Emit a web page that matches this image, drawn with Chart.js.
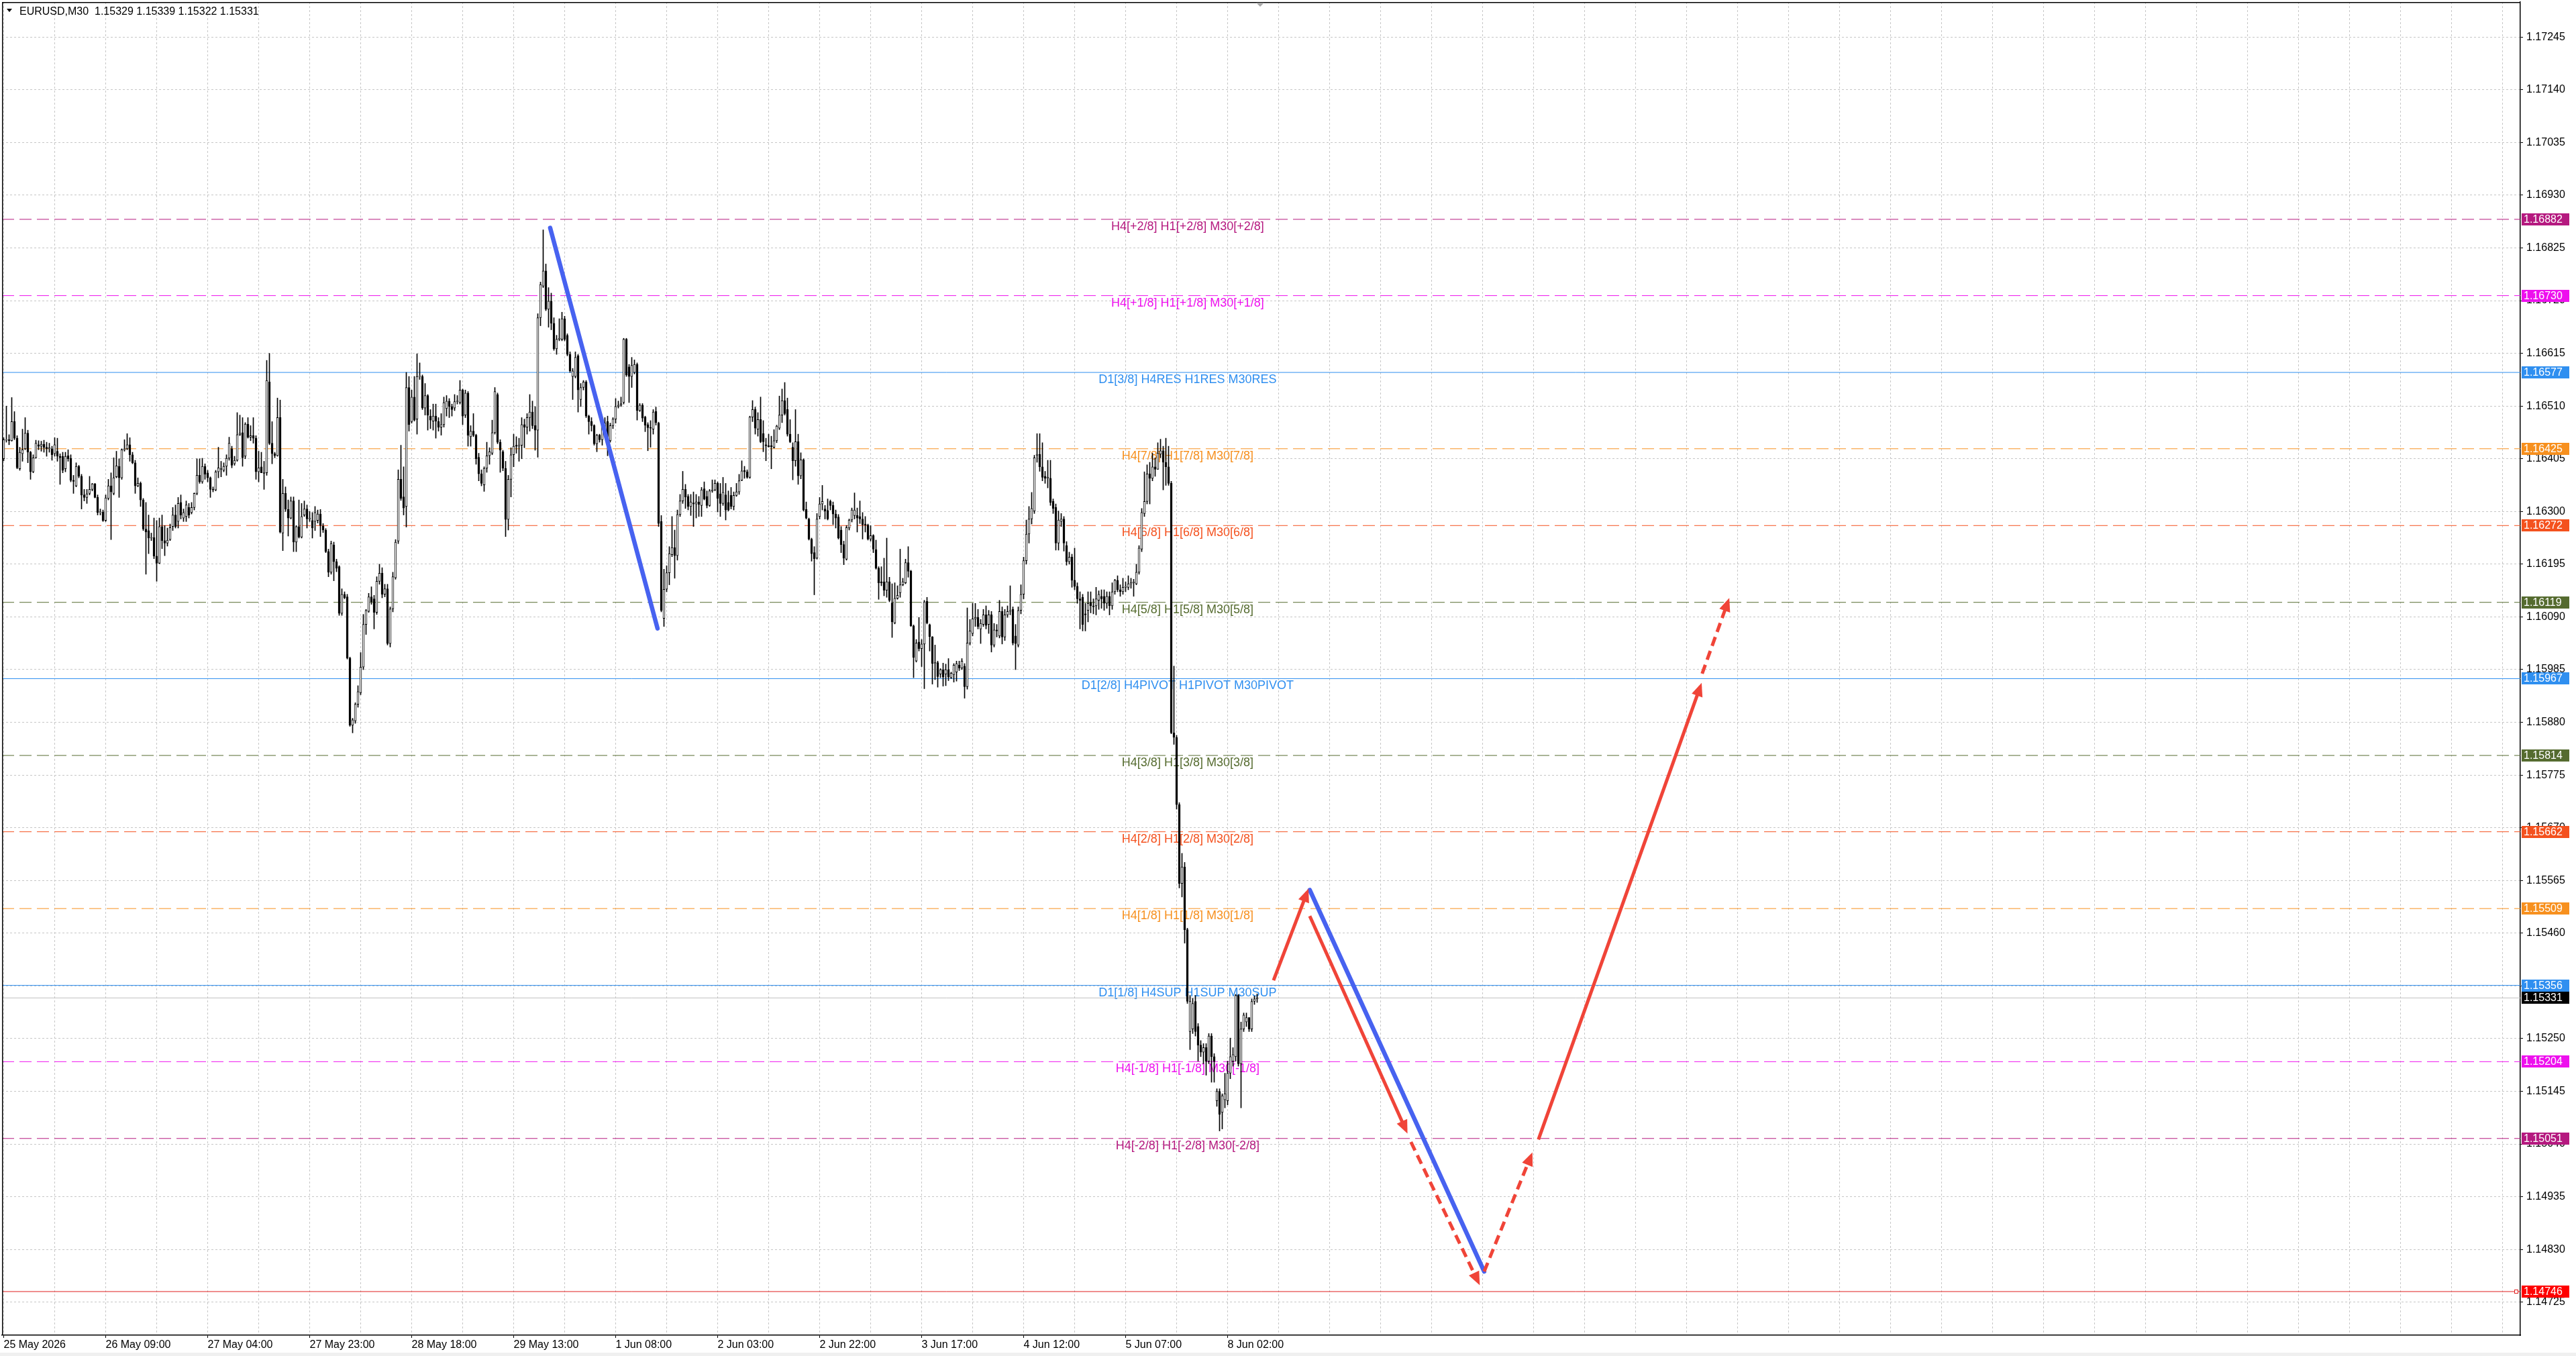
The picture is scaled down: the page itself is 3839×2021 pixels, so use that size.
<!DOCTYPE html>
<html><head><meta charset="utf-8">
<script src="https://cdn.jsdelivr.net/npm/chart.js@4.4.1/dist/chart.umd.min.js"></script>
<style>html,body{margin:0;padding:0;background:#fff;overflow:hidden}canvas{display:block}</style>
</head><body>
<canvas id="c" width="3839" height="2021" style="width:3839px;height:2021px"></canvas>
<script>
// ---------- DATA ----------
const symbolTitle = 'EURUSD,M30';
const lastOHLC = [1.15329, 1.15339, 1.15322, 1.15331];

const opens = [
1.16405,1.16442,1.16443,1.16441,1.16479,1.16446,1.16385,1.16415,1.16425,1.16456,
1.16418,1.16379,1.16407,1.16433,1.16430,1.16434,1.16428,1.16425,1.16425,1.16415,
1.16420,1.16410,1.16410,1.16385,1.16411,1.16406,1.16362,1.16351,1.16390,1.16370,
1.16333,1.16328,1.16336,1.16344,1.16355,1.16328,1.16298,1.16299,1.16282,1.16326,
1.16351,1.16336,1.16369,1.16390,1.16367,1.16423,1.16425,1.16433,1.16413,1.16397,
1.16351,1.16356,1.16323,1.16265,1.16262,1.16247,1.16248,1.16211,1.16197,1.16270,
1.16242,1.16237,1.16244,1.16270,1.16293,1.16280,1.16318,1.16287,1.16290,1.16308,
1.16298,1.16308,1.16336,1.16372,1.16359,1.16390,1.16377,1.16367,1.16344,1.16343,
1.16379,1.16385,1.16382,1.16390,1.16406,1.16425,1.16395,1.16402,1.16453,1.16457,
1.16410,1.16474,1.16448,1.16451,1.16446,1.16379,1.16389,1.16377,1.16377,1.16558,
1.16436,1.16415,1.16411,1.16487,1.16257,1.16336,1.16304,1.16287,1.16321,1.16239,
1.16270,1.16249,1.16293,1.16305,1.16285,1.16282,1.16280,1.16282,1.16295,1.16271,
1.16263,1.16220,1.16179,1.16233,1.16200,1.16190,1.16097,1.16135,1.16130,1.16008,
1.15874,1.15883,1.15916,1.15939,1.15990,1.16075,1.16101,1.16130,1.16126,1.16099,
1.16161,1.16177,1.16135,1.16146,1.16037,1.16106,1.16168,1.16241,1.16364,1.16329,
1.16310,1.16547,1.16479,1.16528,1.16484,1.16569,1.16569,1.16506,1.16531,1.16490,
1.16480,1.16490,1.16479,1.16468,1.16473,1.16505,1.16520,1.16509,1.16506,1.16519,
1.16517,1.16542,1.16492,1.16536,1.16449,1.16460,1.16452,1.16408,1.16375,1.16353,
1.16386,1.16411,1.16416,1.16457,1.16533,1.16438,1.16419,1.16386,1.16284,1.16364,
1.16413,1.16432,1.16430,1.16432,1.16473,1.16468,1.16487,1.16498,1.16471,1.16462,
1.16686,1.16749,1.16779,1.16703,1.16719,1.16675,1.16624,1.16643,1.16643,1.16684,
1.16651,1.16613,1.16569,1.16569,1.16610,1.16523,1.16547,1.16558,1.16490,1.16479,
1.16471,1.16435,1.16452,1.16443,1.16465,1.16479,1.16441,1.16471,1.16484,1.16509,
1.16512,1.16517,1.16643,1.16588,1.16569,1.16577,1.16593,1.16501,1.16512,1.16488,
1.16473,1.16467,1.16464,1.16499,1.16476,1.16280,1.16087,1.16145,1.16178,1.16214,
1.16228,1.16212,1.16294,1.16321,1.16344,1.16330,1.16310,1.16317,1.16315,1.16319,
1.16312,1.16345,1.16330,1.16312,1.16341,1.16343,1.16356,1.16335,1.16316,1.16333,
1.16318,1.16332,1.16310,1.16332,1.16339,1.16362,1.16382,1.16379,1.16368,1.16488,
1.16503,1.16464,1.16483,1.16455,1.16433,1.16431,1.16431,1.16428,1.16441,1.16466,
1.16492,1.16521,1.16503,1.16454,1.16428,1.16401,1.16439,1.16371,1.16403,1.16304,
1.16285,1.16245,1.16218,1.16207,1.16290,1.16315,1.16305,1.16302,1.16320,1.16312,
1.16295,1.16289,1.16263,1.16234,1.16205,1.16267,1.16283,1.16292,1.16292,1.16290,
1.16285,1.16275,1.16273,1.16245,1.16252,1.16224,1.16187,1.16160,1.16160,1.16143,
1.16160,1.16118,1.16078,1.16127,1.16138,1.16154,1.16158,1.16198,1.16181,1.16072,
1.16002,1.16040,1.16027,1.16036,1.16121,1.16074,1.16050,1.15997,1.15999,1.15976,
1.15985,1.15976,1.15985,1.15969,1.15975,1.15980,1.15994,1.15988,1.15992,1.15951,
1.16038,1.16057,1.16086,1.16089,1.16066,1.16075,1.16094,1.16075,1.16094,1.16034,
1.16064,1.16052,1.16101,1.16050,1.16094,1.16101,1.16105,1.16052,1.16034,1.16103,
1.16135,1.16202,1.16255,1.16285,1.16301,1.16412,1.16414,1.16389,1.16370,1.16366,
1.16366,1.16320,1.16308,1.16237,1.16280,1.16285,1.16232,1.16200,1.16209,1.16163,
1.16151,1.16126,1.16129,1.16096,1.16103,1.16119,1.16112,1.16112,1.16123,1.16131,
1.16131,1.16117,1.16131,1.16112,1.16140,1.16163,1.16144,1.16140,1.16149,1.16149,
1.16156,1.16158,1.16156,1.16179,1.16225,1.16296,1.16320,1.16375,1.16366,1.16389,
1.16384,1.16414,1.16421,1.16398,1.16389,1.16356,1.15859,1.15850,1.15716,1.15559,
1.15592,1.15467,1.15264,1.15269,1.15324,1.15274,1.15237,1.15223,1.15232,1.15205,
1.15255,1.15214,1.15126,1.15145,1.15103,1.15128,1.15126,1.15181,1.15205,1.15214,
1.15336,1.15200,1.15269,1.15283,1.15292,1.15269,1.15324,1.15329];

const highs = [
1.16447,1.16510,1.16453,1.16527,1.16499,1.16451,1.16428,1.16464,1.16487,1.16462,
1.16420,1.16413,1.16442,1.16441,1.16440,1.16442,1.16438,1.16436,1.16430,1.16447,
1.16446,1.16415,1.16418,1.16418,1.16423,1.16413,1.16372,1.16397,1.16392,1.16374,
1.16344,1.16344,1.16370,1.16356,1.16356,1.16333,1.16305,1.16303,1.16333,1.16364,
1.16377,1.16407,1.16420,1.16405,1.16425,1.16443,1.16455,1.16447,1.16418,1.16402,
1.16367,1.16359,1.16326,1.16318,1.16293,1.16257,1.16287,1.16282,1.16287,1.16293,
1.16272,1.16267,1.16275,1.16308,1.16313,1.16328,1.16333,1.16305,1.16321,1.16316,
1.16318,1.16337,1.16405,1.16405,1.16406,1.16395,1.16382,1.16369,1.16349,1.16382,
1.16428,1.16400,1.16397,1.16413,1.16448,1.16430,1.16410,1.16497,1.16492,1.16487,
1.16477,1.16487,1.16471,1.16487,1.16451,1.16420,1.16418,1.16400,1.16601,1.16615,
1.16479,1.16418,1.16526,1.16522,1.16364,1.16349,1.16323,1.16329,1.16329,1.16272,
1.16323,1.16316,1.16321,1.16313,1.16300,1.16298,1.16310,1.16303,1.16304,1.16276,
1.16266,1.16225,1.16241,1.16239,1.16205,1.16192,1.16146,1.16140,1.16135,1.16010,
1.15888,1.15919,1.15953,1.16019,1.16095,1.16105,1.16137,1.16150,1.16133,1.16170,
1.16195,1.16188,1.16155,1.16155,1.16110,1.16179,1.16244,1.16383,1.16432,1.16389,
1.16577,1.16569,1.16542,1.16569,1.16614,1.16596,1.16572,1.16555,1.16533,1.16503,
1.16514,1.16514,1.16487,1.16495,1.16528,1.16531,1.16525,1.16514,1.16533,1.16531,
1.16561,1.16544,1.16542,1.16539,1.16471,1.16495,1.16454,1.16416,1.16383,1.16389,
1.16438,1.16427,1.16482,1.16547,1.16536,1.16443,1.16422,1.16400,1.16372,1.16427,
1.16454,1.16449,1.16446,1.16487,1.16484,1.16495,1.16533,1.16520,1.16509,1.16694,
1.16757,1.16861,1.16793,1.16746,1.16735,1.16686,1.16651,1.16684,1.16697,1.16689,
1.16654,1.16618,1.16585,1.16618,1.16613,1.16555,1.16561,1.16561,1.16492,1.16487,
1.16473,1.16454,1.16454,1.16476,1.16487,1.16490,1.16476,1.16487,1.16525,1.16520,
1.16528,1.16645,1.16645,1.16593,1.16607,1.16602,1.16596,1.16515,1.16515,1.16490,
1.16477,1.16481,1.16503,1.16508,1.16478,1.16292,1.16185,1.16192,1.16230,1.16290,
1.16263,1.16303,1.16334,1.16380,1.16354,1.16334,1.16334,1.16339,1.16334,1.16330,
1.16348,1.16359,1.16341,1.16344,1.16363,1.16363,1.16359,1.16356,1.16368,1.16356,
1.16341,1.16348,1.16339,1.16356,1.16374,1.16401,1.16390,1.16383,1.16490,1.16521,
1.16508,1.16497,1.16528,1.16481,1.16446,1.16454,1.16450,1.16463,1.16472,1.16530,
1.16544,1.16557,1.16526,1.16483,1.16437,1.16503,1.16454,1.16417,1.16405,1.16319,
1.16287,1.16247,1.16230,1.16296,1.16328,1.16352,1.16312,1.16325,1.16323,1.16319,
1.16303,1.16294,1.16270,1.16241,1.16272,1.16285,1.16307,1.16337,1.16307,1.16321,
1.16298,1.16290,1.16275,1.16272,1.16254,1.16243,1.16190,1.16190,1.16207,1.16247,
1.16169,1.16156,1.16158,1.16152,1.16225,1.16167,1.16205,1.16230,1.16183,1.16074,
1.16045,1.16089,1.16045,1.16123,1.16129,1.16076,1.16051,1.16034,1.16002,1.15987,
1.15998,1.15996,1.16007,1.15980,1.15997,1.16002,1.16002,1.16007,1.15997,1.16108,
1.16085,1.16117,1.16117,1.16105,1.16085,1.16105,1.16112,1.16103,1.16101,1.16077,
1.16075,1.16123,1.16110,1.16105,1.16112,1.16152,1.16110,1.16075,1.16110,1.16154,
1.16209,1.16283,1.16310,1.16338,1.16412,1.16455,1.16455,1.16437,1.16380,1.16402,
1.16402,1.16325,1.16315,1.16301,1.16296,1.16290,1.16240,1.16219,1.16215,1.16227,
1.16158,1.16140,1.16135,1.16117,1.16140,1.16140,1.16126,1.16149,1.16142,1.16144,
1.16144,1.16140,1.16140,1.16158,1.16165,1.16172,1.16154,1.16167,1.16160,1.16172,
1.16167,1.16165,1.16195,1.16232,1.16306,1.16379,1.16393,1.16398,1.16416,1.16407,
1.16437,1.16444,1.16430,1.16446,1.16430,1.16360,1.15992,1.15854,1.15720,1.15619,
1.15601,1.15470,1.15336,1.15330,1.15336,1.15280,1.15246,1.15240,1.15240,1.15260,
1.15260,1.15220,1.15150,1.15150,1.15140,1.15181,1.15205,1.15251,1.15232,1.15338,
1.15338,1.15283,1.15301,1.15301,1.15292,1.15329,1.15335,1.15339];

const lows = [
1.16401,1.16438,1.16433,1.16440,1.16443,1.16385,1.16382,1.16400,1.16423,1.16397,
1.16364,1.16377,1.16406,1.16423,1.16420,1.16418,1.16410,1.16418,1.16402,1.16410,
1.16400,1.16354,1.16377,1.16379,1.16400,1.16359,1.16336,1.16349,1.16367,1.16305,
1.16321,1.16316,1.16333,1.16341,1.16327,1.16293,1.16293,1.16280,1.16280,1.16323,
1.16244,1.16333,1.16367,1.16328,1.16364,1.16420,1.16423,1.16400,1.16395,1.16336,
1.16349,1.16310,1.16262,1.16175,1.16216,1.16242,1.16206,1.16161,1.16196,1.16226,
1.16212,1.16231,1.16242,1.16262,1.16267,1.16267,1.16285,1.16280,1.16280,1.16287,
1.16295,1.16303,1.16333,1.16356,1.16356,1.16364,1.16359,1.16328,1.16339,1.16341,
1.16367,1.16369,1.16379,1.16372,1.16402,1.16387,1.16392,1.16400,1.16451,1.16390,
1.16405,1.16446,1.16441,1.16436,1.16364,1.16359,1.16377,1.16344,1.16372,1.16433,
1.16395,1.16407,1.16410,1.16257,1.16222,1.16300,1.16251,1.16285,1.16220,1.16220,
1.16247,1.16247,1.16290,1.16267,1.16280,1.16247,1.16262,1.16277,1.16250,1.16258,
1.16218,1.16170,1.16175,1.16162,1.16180,1.16093,1.16093,1.16126,1.16006,1.15872,
1.15859,1.15878,1.15910,1.15935,1.15985,1.16055,1.16099,1.16115,1.16066,1.16095,
1.16155,1.16128,1.16130,1.16034,1.16030,1.16100,1.16165,1.16236,1.16322,1.16293,
1.16269,1.16460,1.16476,1.16480,1.16454,1.16563,1.16503,1.16492,1.16462,1.16465,
1.16462,1.16446,1.16460,1.16452,1.16468,1.16490,1.16487,1.16490,1.16501,1.16514,
1.16514,1.16473,1.16487,1.16430,1.16430,1.16449,1.16394,1.16361,1.16351,1.16340,
1.16378,1.16394,1.16413,1.16454,1.16435,1.16378,1.16381,1.16250,1.16263,1.16329,
1.16389,1.16416,1.16400,1.16405,1.16427,1.16454,1.16460,1.16465,1.16422,1.16408,
1.16670,1.16746,1.16700,1.16667,1.16662,1.16621,1.16613,1.16640,1.16640,1.16640,
1.16610,1.16577,1.16523,1.16566,1.16498,1.16509,1.16542,1.16487,1.16454,1.16460,
1.16432,1.16419,1.16438,1.16432,1.16454,1.16411,1.16438,1.16465,1.16476,1.16506,
1.16509,1.16514,1.16569,1.16517,1.16547,1.16574,1.16482,1.16499,1.16479,1.16459,
1.16421,1.16428,1.16454,1.16472,1.16270,1.16100,1.16071,1.16140,1.16154,1.16210,
1.16167,1.16203,1.16290,1.16316,1.16306,1.16303,1.16292,1.16270,1.16287,1.16290,
1.16290,1.16323,1.16307,1.16310,1.16338,1.16341,1.16299,1.16290,1.16312,1.16283,
1.16301,1.16305,1.16303,1.16330,1.16334,1.16361,1.16366,1.16366,1.16366,1.16479,
1.16454,1.16450,1.16437,1.16419,1.16401,1.16428,1.16385,1.16426,1.16437,1.16463,
1.16477,1.16492,1.16450,1.16437,1.16363,1.16390,1.16354,1.16365,1.16301,1.16285,
1.16243,1.16201,1.16134,1.16205,1.16285,1.16303,1.16285,1.16283,1.16303,1.16274,
1.16267,1.16245,1.16218,1.16194,1.16203,1.16263,1.16279,1.16285,1.16259,1.16276,
1.16245,1.16259,1.16243,1.16241,1.16218,1.16185,1.16125,1.16152,1.16132,1.16129,
1.16120,1.16049,1.16076,1.16125,1.16129,1.16152,1.16156,1.16169,1.16071,1.15969,
1.16000,1.16022,1.15991,1.15947,1.16076,1.16022,1.15956,1.15965,1.15950,1.15969,
1.15952,1.15953,1.15963,1.15967,1.15960,1.15962,1.15983,1.15985,1.15928,1.15946,
1.16034,1.16052,1.16071,1.16066,1.16037,1.16071,1.16066,1.16057,1.16020,1.16030,
1.16050,1.16048,1.16036,1.16043,1.16089,1.16094,1.16034,1.15985,1.16030,1.16096,
1.16126,1.16195,1.16237,1.16275,1.16296,1.16398,1.16380,1.16361,1.16356,1.16347,
1.16312,1.16296,1.16223,1.16223,1.16270,1.16221,1.16193,1.16195,1.16149,1.16144,
1.16117,1.16066,1.16062,1.16062,1.16080,1.16098,1.16096,1.16094,1.16105,1.16107,
1.16103,1.16107,1.16094,1.16105,1.16135,1.16140,1.16131,1.16135,1.16140,1.16144,
1.16147,1.16131,1.16154,1.16175,1.16220,1.16290,1.16315,1.16315,1.16361,1.16370,
1.16384,1.16407,1.16343,1.16352,1.16352,1.15857,1.15836,1.15707,1.15550,1.15532,
1.15440,1.15320,1.15228,1.15260,1.15255,1.15205,1.15214,1.15200,1.15177,1.15200,
1.15163,1.15163,1.15115,1.15066,1.15070,1.15112,1.15118,1.15170,1.15195,1.15205,
1.15195,1.15112,1.15264,1.15274,1.15264,1.15264,1.15318,1.15322];

const closes = [
1.16443,1.16443,1.16441,1.16479,1.16446,1.16387,1.16418,1.16423,1.16456,1.16418,
1.16379,1.16407,1.16436,1.16430,1.16434,1.16428,1.16425,1.16427,1.16413,1.16433,
1.16410,1.16407,1.16382,1.16410,1.16405,1.16362,1.16360,1.16390,1.16370,1.16333,
1.16328,1.16335,1.16344,1.16355,1.16328,1.16298,1.16299,1.16282,1.16327,1.16351,
1.16339,1.16367,1.16391,1.16367,1.16423,1.16425,1.16433,1.16413,1.16397,1.16351,
1.16356,1.16323,1.16265,1.16259,1.16247,1.16248,1.16211,1.16197,1.16270,1.16242,
1.16237,1.16243,1.16268,1.16293,1.16270,1.16316,1.16293,1.16298,1.16313,1.16293,
1.16308,1.16336,1.16372,1.16359,1.16390,1.16374,1.16367,1.16344,1.16343,1.16379,
1.16387,1.16384,1.16390,1.16406,1.16436,1.16392,1.16402,1.16453,1.16456,1.16407,
1.16474,1.16448,1.16451,1.16446,1.16379,1.16387,1.16377,1.16376,1.16561,1.16436,
1.16415,1.16411,1.16487,1.16259,1.16336,1.16305,1.16287,1.16321,1.16239,1.16270,
1.16249,1.16290,1.16305,1.16285,1.16287,1.16267,1.16298,1.16295,1.16272,1.16263,
1.16220,1.16179,1.16236,1.16200,1.16187,1.16097,1.16135,1.16128,1.16008,1.15874,
1.15885,1.15916,1.15941,1.15990,1.16075,1.16103,1.16130,1.16120,1.16099,1.16161,
1.16177,1.16135,1.16146,1.16037,1.16106,1.16170,1.16239,1.16364,1.16326,1.16307,
1.16547,1.16473,1.16528,1.16482,1.16569,1.16570,1.16506,1.16531,1.16492,1.16482,
1.16490,1.16480,1.16468,1.16473,1.16517,1.16520,1.16509,1.16503,1.16519,1.16520,
1.16542,1.16490,1.16536,1.16452,1.16460,1.16452,1.16405,1.16375,1.16356,1.16386,
1.16411,1.16419,1.16457,1.16539,1.16438,1.16422,1.16386,1.16284,1.16364,1.16413,
1.16430,1.16430,1.16432,1.16473,1.16468,1.16487,1.16498,1.16471,1.16462,1.16686,
1.16752,1.16779,1.16703,1.16719,1.16675,1.16624,1.16643,1.16645,1.16684,1.16643,
1.16613,1.16580,1.16580,1.16607,1.16542,1.16547,1.16558,1.16490,1.16479,1.16471,
1.16435,1.16452,1.16443,1.16471,1.16476,1.16441,1.16471,1.16484,1.16509,1.16512,
1.16515,1.16643,1.16572,1.16569,1.16591,1.16593,1.16501,1.16512,1.16486,1.16472,
1.16467,1.16466,1.16498,1.16477,1.16276,1.16103,1.16145,1.16178,1.16216,1.16228,
1.16212,1.16294,1.16321,1.16344,1.16329,1.16310,1.16319,1.16315,1.16319,1.16314,
1.16343,1.16325,1.16312,1.16341,1.16343,1.16356,1.16326,1.16316,1.16338,1.16303,
1.16303,1.16310,1.16332,1.16339,1.16361,1.16381,1.16379,1.16368,1.16488,1.16503,
1.16466,1.16483,1.16439,1.16439,1.16431,1.16429,1.16429,1.16441,1.16470,1.16492,
1.16521,1.16495,1.16454,1.16439,1.16401,1.16439,1.16371,1.16403,1.16303,1.16287,
1.16245,1.16216,1.16206,1.16285,1.16315,1.16320,1.16301,1.16285,1.16312,1.16295,
1.16287,1.16247,1.16234,1.16207,1.16268,1.16283,1.16303,1.16303,1.16287,1.16285,
1.16274,1.16273,1.16245,1.16252,1.16225,1.16187,1.16158,1.16158,1.16143,1.16160,
1.16123,1.16080,1.16127,1.16133,1.16154,1.16160,1.16198,1.16181,1.16072,1.16009,
1.16038,1.16027,1.16036,1.16120,1.16078,1.16051,1.15997,1.15999,1.15971,1.15985,
1.15970,1.15985,1.15970,1.15978,1.15994,1.15997,1.15988,1.16002,1.15951,1.16038,
1.16062,1.16086,1.16089,1.16071,1.16077,1.16094,1.16073,1.16094,1.16034,1.16064,
1.16062,1.16101,1.16050,1.16094,1.16101,1.16103,1.16038,1.16037,1.16103,1.16135,
1.16202,1.16255,1.16285,1.16306,1.16407,1.16414,1.16389,1.16368,1.16366,1.16368,
1.16318,1.16306,1.16237,1.16283,1.16285,1.16237,1.16200,1.16209,1.16163,1.16151,
1.16126,1.16123,1.16075,1.16094,1.16117,1.16112,1.16110,1.16126,1.16135,1.16126,
1.16117,1.16131,1.16112,1.16140,1.16163,1.16144,1.16140,1.16149,1.16151,1.16156,
1.16158,1.16160,1.16179,1.16227,1.16298,1.16320,1.16375,1.16366,1.16389,1.16384,
1.16416,1.16421,1.16398,1.16389,1.16356,1.15859,1.15850,1.15716,1.15559,1.15592,
1.15467,1.15324,1.15324,1.15320,1.15264,1.15237,1.15223,1.15232,1.15205,1.15255,
1.15214,1.15205,1.15145,1.15099,1.15136,1.15140,1.15181,1.15214,1.15218,1.15336,
1.15200,1.15269,1.15297,1.15292,1.15269,1.15324,1.15329,1.15331];

// time axis labels (bar index of each label)
const timeLabels = ['25 May 2026','26 May 09:00','27 May 04:00','27 May 23:00','28 May 18:00','29 May 13:00','1 Jun 08:00','2 Jun 03:00','2 Jun 22:00','3 Jun 17:00','4 Jun 12:00','5 Jun 07:00','8 Jun 02:00'];
const timeLabelBars = [0,38,76,114,152,190,228,266,304,342,380,418,456];

// price axis tick labels
const priceTicks = [1.14725,1.14830,1.14935,1.15040,1.15145,1.15250,1.15355,1.15460,1.15565,1.15670,1.15775,1.15880,1.15985,1.16090,1.16195,1.16300,1.16405,1.16510,1.16615,1.16720,1.16825,1.16930,1.17035,1.17140,1.17245];

// Murrey-math style levels
const levelPrices = [1.16882,1.16730,1.16577,1.16425,1.16272,1.16119,1.15967,1.15814,1.15662,1.15509,1.15356,1.15204,1.15051];
const levelNames = ['H4[+2/8] H1[+2/8] M30[+2/8]','H4[+1/8] H1[+1/8] M30[+1/8]','D1[3/8] H4RES H1RES M30RES','H4[7/8] H1[7/8] M30[7/8]','H4[6/8] H1[6/8] M30[6/8]','H4[5/8] H1[5/8] M30[5/8]','D1[2/8] H4PIVOT H1PIVOT M30PIVOT','H4[3/8] H1[3/8] M30[3/8]','H4[2/8] H1[2/8] M30[2/8]','H4[1/8] H1[1/8] M30[1/8]','D1[1/8] H4SUP H1SUP M30SUP','H4[-1/8] H1[-1/8] M30[-1/8]','H4[-2/8] H1[-2/8] M30[-2/8]'];
const levelColors = ['#b5197f','#ee10ee','#2f8ff0','#f7901e','#f4511e','#556b2f','#2f8ff0','#556b2f','#f4511e','#f7901e','#2f8ff0','#ee10ee','#b5197f'];
const levelDashed = [true,true,false,true,true,true,false,true,true,true,false,true,true];
const bidPrice = 1.15331;
const targetPrice = 1.14746;

// drawn trend lines (bar index, price)
const blueFromBar = [203.6, 486.6];
const blueFromPrice = [1.16865, 1.15546];
const blueToBar = [243.6, 551.6];
const blueToPrice = [1.16067, 1.14786];

// projection arrows (bar index, price)
const arrowFromBar = [473.1, 486.6, 524.3, 551.6, 571.8, 632.8];
const arrowFromPrice = [1.15366, 1.15494, 1.15044, 1.14786, 1.15049, 1.15977];
const arrowToBar = [485.6, 522.4, 549.3, 569.0, 632.1, 642.4];
const arrowToPrice = [1.15541, 1.15068, 1.14766, 1.15016, 1.15951, 1.16120];
const arrowDashed = [false, false, true, true, false, true];

// ---------- VIEW ----------
const xMin = -0.625, xMax = 937.625;      // visible bars incl. chart shift
const yMin = 1.146591, yMax = 1.173149;
const gridStep = 19;
const captionBar = 441.1;
const FONT = '"Liberation Sans", Arial, sans-serif';

const wickData = closes.map((c,i)=>({x:i, y:[lows[i], highs[i]]}));
const bodyData = closes.map((c,i)=>({x:i, y:[opens[i], c]}));
const bodyFill = closes.map((c,i)=> c >= opens[i] ? '#ffffff' : '#000000');

const datasets = [];
levelPrices.forEach((p,i)=>{
  datasets.push({type:'line', data:[{x:xMin,y:p},{x:xMax,y:p}], borderColor:levelColors[i], borderWidth:1,
    borderDash: levelDashed[i] ? [18,8] : [], pointRadius:0, order:50});
});
datasets.push({type:'line', data:[{x:xMin,y:bidPrice},{x:xMax,y:bidPrice}], borderColor:'#c0c0c0', borderWidth:1, pointRadius:0, order:49});
datasets.push({type:'line', data:[{x:xMin,y:targetPrice},{x:xMax,y:targetPrice}], borderColor:'#e02020', borderWidth:1, pointRadius:0, order:49});
datasets.push({type:'bar', data:wickData, backgroundColor:'#000', borderWidth:0, barThickness:1, grouped:false, order:20});
datasets.push({type:'bar', data:bodyData, backgroundColor:bodyFill, borderColor:'#000', borderWidth:1, borderSkipped:false, barThickness:3, minBarLength:1, grouped:false, order:10});
blueFromBar.forEach((b,i)=>{
  datasets.push({type:'line', data:[{x:b,y:blueFromPrice[i]},{x:blueToBar[i],y:blueToPrice[i]}], borderColor:'#4762f0', borderWidth:6.5, borderCapStyle:'round', pointRadius:0, order:5});
});
const arrowStart = datasets.length;
arrowFromBar.forEach((b,i)=>{
  datasets.push({type:'line', data:[{x:b,y:arrowFromPrice[i]},{x:arrowToBar[i],y:arrowToPrice[i]}], borderColor:'#f04438', borderWidth:5,
    borderDash: arrowDashed[i] ? [14,8] : [], borderCapStyle:'butt', pointRadius:0, order:1});
});

const labelSet = new Set(timeLabelBars);

const decor = {
  id:'decor',
  beforeDraw(chart){
    const c = chart.ctx; c.save();
    c.fillStyle='#ffffff'; c.fillRect(0,0,chart.width,chart.height);
    c.fillStyle='#f0f0f0'; c.fillRect(0,2016,chart.width,chart.height-2016);
    c.restore();
  },
  beforeDatasetsDraw(chart){
    const c = chart.ctx, xs = chart.scales.x, ys = chart.scales.y, a = chart.chartArea;
    c.save(); c.beginPath(); c.rect(a.left,a.top,a.right-a.left,a.bottom-a.top); c.clip();
    c.font = '18px ' + FONT; c.textAlign='center'; c.textBaseline='middle';
    const cx = xs.getPixelForValue(captionBar);
    levelPrices.forEach((p,i)=>{ c.fillStyle = levelColors[i]; c.fillText(levelNames[i], cx, ys.getPixelForValue(p) + 11); });
    c.restore();
  },
  afterDatasetsDraw(chart){
    const c = chart.ctx, a = chart.chartArea, ys = chart.scales.y;
    c.save();
    c.fillStyle = '#f04438';
    for (let k = 0; k < arrowFromBar.length; k++){
      const pts = chart.getDatasetMeta(arrowStart + k).data;
      const p0 = pts[0], p1 = pts[1];
      const dx = p1.x - p0.x, dy = p1.y - p0.y, len = Math.hypot(dx,dy), ux = dx/len, uy = dy/len;
      const tx = p1.x + ux*6, ty = p1.y + uy*6, bx = tx - ux*20, by = ty - uy*20;
      c.beginPath(); c.moveTo(tx,ty); c.lineTo(bx - uy*8.5, by + ux*8.5); c.lineTo(bx + uy*8.5, by - ux*8.5); c.closePath(); c.fill();
    }
    const ry = Math.round(ys.getPixelForValue(targetPrice));
    c.strokeStyle='#e02020'; c.lineWidth=1; c.fillStyle='#fff';
    c.fillRect(a.right-8.5, ry-2.5, 5, 5); c.strokeRect(a.right-8.5, ry-2.5, 5, 5);
    c.strokeStyle='#000'; c.lineWidth=1.5;
    c.beginPath(); c.moveTo(a.left+0.75, a.bottom); c.lineTo(a.left+0.75, a.top+0.75); c.lineTo(a.right, a.top+0.75); c.stroke();
    c.fillStyle='#a8a8a8'; c.beginPath(); c.moveTo(1872, a.top+1); c.lineTo(1884, a.top+1); c.lineTo(1878, a.top+7); c.closePath(); c.fill();
    c.restore();
  },
  afterDraw(chart){
    const c = chart.ctx, a = chart.chartArea, ys = chart.scales.y;
    c.save();
    c.font = '16px ' + FONT; c.textBaseline='middle'; c.textAlign='left';
    const boxes = levelPrices.map((p,i)=>[p, levelColors[i]]).concat([[bidPrice,'#000000'],[targetPrice,'#ff0000']]);
    boxes.forEach(([p,col])=>{
      const y = ys.getPixelForValue(p);
      c.fillStyle = col; c.fillRect(a.right+2, Math.round(y-9), 71, 18);
      c.fillStyle = '#ffffff'; c.fillText(p.toFixed(5), a.right+5, y+0.5);
    });
    c.fillStyle='#000';
    c.beginPath(); c.moveTo(10,13); c.lineTo(18,13); c.lineTo(14,18); c.closePath(); c.fill();
    c.textBaseline='alphabetic';
    c.fillText(symbolTitle + '  ' + lastOHLC.map(v=>v.toFixed(5)).join(' '), 29, 21.5);
    c.restore();
  }
};

new Chart(document.getElementById('c'), {
  type:'bar',
  data:{datasets},
  options:{
    responsive:false, animation:false, devicePixelRatio:1, events:[],
    layout:{padding:{left:3, top:3, right:0, bottom:0}},
    plugins:{legend:{display:false}, tooltip:{enabled:false}},
    scales:{
      x:{type:'linear', min:xMin, max:xMax, offset:false,
        afterBuildTicks(s){ const t=[]; for(let b=0;b<=xMax;b+=gridStep) t.push({value:b}); s.ticks=t; },
        afterFit(s){ s.height = 31; s.paddingLeft = 0; s.paddingRight = 0; s.paddingTop = 0; s.paddingBottom = 0; },
        grid:{color:'#c6c6c6', lineWidth:1, offset:false, drawTicks:true, tickLength:4,
          tickColor:(ctx)=> (ctx.tick && labelSet.has(ctx.tick.value)) ? '#000' : 'rgba(0,0,0,0)'},
        border:{display:true, color:'#000', width:1.5, dash:[3,3]},
        ticks:{autoSkip:false, maxRotation:0, minRotation:0, align:'start', padding:1, color:'#000',
          font:{family:FONT, size:16},
          callback:(v)=>{ const k = timeLabelBars.indexOf(v); return k>=0 ? timeLabels[k] : ''; }}
      },
      y:{type:'linear', position:'right', min:yMin, max:yMax,
        afterBuildTicks(s){ s.ticks = priceTicks.map(v=>({value:v})); },
        afterFit(s){ s.width = 83; s.paddingTop = 0; s.paddingBottom = 0; s.paddingLeft = 0; s.paddingRight = 0; },
        grid:{color:'#c6c6c6', lineWidth:1, drawTicks:true, tickLength:4, tickColor:'#000'},
        border:{display:true, color:'#000', width:1.5, dash:[3,3]},
        ticks:{autoSkip:false, padding:5, color:'#000', font:{family:FONT, size:16},
          callback:(v)=> Number(v).toFixed(5)}
      }
    }
  },
  plugins:[decor]
});
</script>
</body></html>
